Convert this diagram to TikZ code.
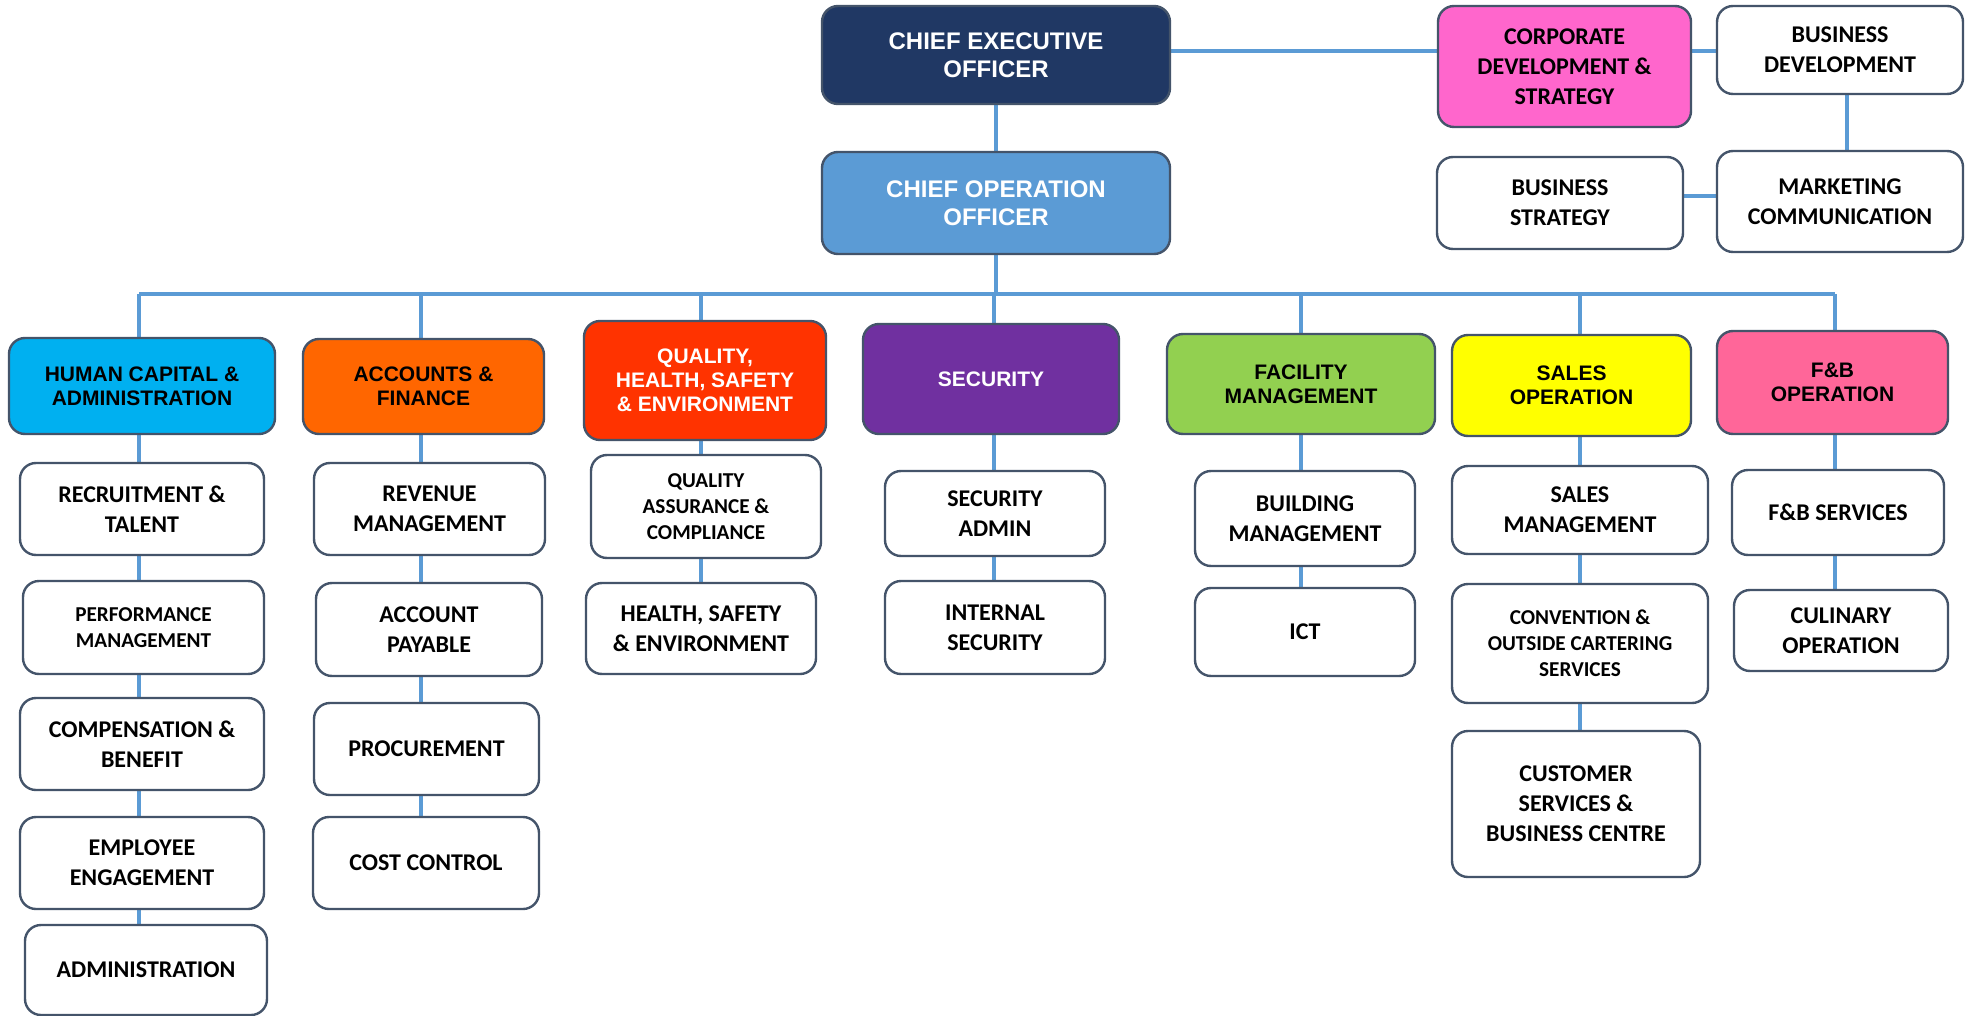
\documentclass[tikz,border=0pt]{standalone}
\usepackage{fontspec}
\newfontfamily\arialb{Liberation Sans}
\newfontfamily\calb{Carlito}
\usetikzlibrary{backgrounds}
\definecolor{bordercol}{HTML}{44546A}
\definecolor{linecol}{HTML}{5B9BD5}
\definecolor{ceocol}{HTML}{203864}
\definecolor{coocol}{HTML}{5B9BD5}
\definecolor{corpcol}{HTML}{FF66CC}
\definecolor{hccol}{HTML}{00B0F0}
\definecolor{acccol}{HTML}{FF6600}
\definecolor{qualcol}{HTML}{FF3300}
\definecolor{seccol}{HTML}{7030A0}
\definecolor{faccol}{HTML}{92D050}
\definecolor{salcol}{HTML}{FFFF00}
\definecolor{fbcol}{HTML}{FF6699}
\begin{document}
\begin{tikzpicture}[x=0.5pt,y=-0.5pt,
  box/.style={draw=bordercol, line width=1.2pt, rounded corners=8pt, align=center, inner sep=2pt},
  hd/.style={box, font=\arialb\bfseries\fontsize{10.5}{12}\selectfont},
  top/.style={box, font=\arialb\bfseries\fontsize{12}{13.8}\selectfont},
  wb/.style={box, fill=white, font=\calb\bfseries\fontsize{12}{15}\selectfont},
  wbs/.style={box, fill=white, font=\calb\bfseries\fontsize{10.6}{13}\selectfont},
  sz/.style 2 args={minimum width=#1*0.5pt, minimum height=#2*0.5pt},
  conn/.style={draw=linecol, line width=1.8pt}]
\useasboundingbox (0,0) rectangle (1969,1016);

% top level
\node[top, fill=ceocol, text=white, sz={348}{98}] (ceo) at (996,55) {CHIEF EXECUTIVE\\OFFICER};
\node[top, fill=coocol, text=white, sz={348}{102}] (coo) at (996,203) {CHIEF OPERATION\\OFFICER};
\node[wb, fill=corpcol, sz={253}{121}] (corp) at (1564.5,66.5) {CORPORATE\\DEVELOPMENT \&\\STRATEGY};
\node[wb, sz={246}{88}] (busdev) at (1840,50) {BUSINESS\\DEVELOPMENT};
\node[wb, sz={246}{101}] (markcom) at (1840,201.5) {MARKETING\\COMMUNICATION};
\node[wb, sz={246}{92}] (busstrat) at (1560,203) {BUSINESS\\STRATEGY};

% department heads
\node[hd, fill=hccol, sz={266}{96}] (hc) at (142,386) {HUMAN CAPITAL \&\\ADMINISTRATION};
\node[hd, fill=acccol, sz={241}{95}] (acc) at (423.5,386.5) {ACCOUNTS \&\\FINANCE};
\node[hd, fill=qualcol, text=white, sz={242}{119}] (qual) at (705,380.5) {QUALITY,\\HEALTH, SAFETY\\\& ENVIRONMENT};
\node[hd, fill=seccol, text=white, sz={256}{110}] (sec) at (991,379) {SECURITY};
\node[hd, fill=faccol, sz={268}{100}] (fac) at (1301,384) {FACILITY\\MANAGEMENT};
\node[hd, fill=salcol, sz={239}{101}] (sal) at (1571.5,385.5) {SALES\\OPERATION};
\node[hd, fill=fbcol, sz={231}{103}] (fb) at (1832.5,382.5) {F\&B\\OPERATION};

% column 1
\node[wb, sz={244}{92}] (recr) at (142,509) {RECRUITMENT \&\\TALENT};
\node[wbs, sz={241}{93}] (perf) at (143.5,627.5) {PERFORMANCE\\MANAGEMENT};
\node[wb, sz={244}{92}] (comp) at (142,744) {COMPENSATION \&\\BENEFIT};
\node[wb, sz={244}{92}] (empl) at (142,863) {EMPLOYEE\\ENGAGEMENT};
\node[wb, sz={242}{90}] (admin) at (146,970) {ADMINISTRATION};

% column 2
\node[wb, sz={231}{92}] (rev) at (429.5,509) {REVENUE\\MANAGEMENT};
\node[wb, sz={226}{93}] (ap) at (429,629.5) {ACCOUNT\\PAYABLE};
\node[wb, sz={225}{92}] (proc) at (426.5,749) {PROCUREMENT};
\node[wb, sz={226}{92}] (cost) at (426,863) {COST CONTROL};

% column 3
\node[wbs, sz={230}{103}] (qa) at (706,506.5) {QUALITY\\ASSURANCE \&\\COMPLIANCE};
\node[wb, sz={230}{91}] (hse) at (701,628.5) {HEALTH, SAFETY\\\& ENVIRONMENT};

% column 4
\node[wb, sz={220}{85}] (secadm) at (995,513.5) {SECURITY\\ADMIN};
\node[wb, sz={220}{93}] (intsec) at (995,627.5) {INTERNAL\\SECURITY};

% column 5
\node[wb, sz={220}{95}] (build) at (1305,518.5) {BUILDING\\MANAGEMENT};
\node[wb, sz={220}{88}] (ict) at (1305,632) {ICT};

% column 6
\node[wb, sz={256}{88}] (salmg) at (1580,510) {SALES\\MANAGEMENT};
\node[wbs, sz={256}{119}] (conv) at (1580,643.5) {CONVENTION \&\\OUTSIDE CARTERING\\SERVICES};
\node[wb, sz={248}{146}] (cust) at (1576,804) {CUSTOMER\\SERVICES \&\\BUSINESS CENTRE};

% column 7
\node[wb, sz={212}{85}] (fbs) at (1838,512.5) {F\&B SERVICES};
\node[wb, sz={214}{81}] (cul) at (1841,630.5) {CULINARY\\OPERATION};

% coordinates
\coordinate (ceorow) at (0,51);
\coordinate (bsrow) at (0,196);
\coordinate (bdcol) at (1847,0);
\coordinate (bus) at (0,294);
\coordinate (c1) at (139,294);
\coordinate (c2) at (421,294);
\coordinate (c3) at (701,294);
\coordinate (c4) at (994,294);
\coordinate (c5) at (1301,294);
\coordinate (c6) at (1580,294);
\coordinate (c7) at (1835,294);

\begin{scope}[on background layer]
\fill[white] (0,0) rectangle (1969,1016);
\draw[conn] (ceo) -- (coo);
\draw[conn] (ceo.east |- ceorow) -- (corp.west |- ceorow);
\draw[conn] (corp.east |- ceorow) -- (busdev.west |- ceorow);
\draw[conn] (busdev.south -| bdcol) -- (markcom.north -| bdcol);
\draw[conn] (busstrat.east |- bsrow) -- (markcom.west |- bsrow);
\draw[conn] (coo.south) -- (coo.south |- bus);
\draw[conn] (c1) -- (c7);
\draw[conn] (c1) -- (c1 |- admin.north);
\draw[conn] (c2) -- (c2 |- cost.north);
\draw[conn] (c3) -- (c3 |- hse.north);
\draw[conn] (c4) -- (c4 |- intsec.north);
\draw[conn] (c5) -- (c5 |- ict.north);
\draw[conn] (c6) -- (c6 |- cust.north);
\draw[conn] (c7) -- (c7 |- cul.north);
\end{scope}
\end{tikzpicture}
\end{document}
